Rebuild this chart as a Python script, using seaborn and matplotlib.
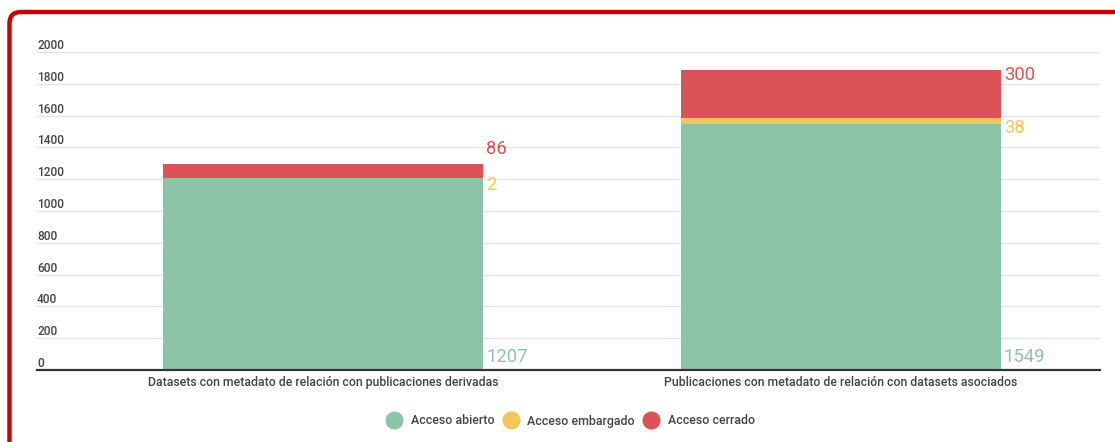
import matplotlib
matplotlib.use("Agg")
import matplotlib.pyplot as plt
from matplotlib.patches import FancyBboxPatch
from matplotlib.lines import Line2D
import seaborn as sns
import pandas as pd
import numpy as np

categories = ["Datasets con metadato de relación con publicaciones derivadas",
              "Publicaciones con metadato de relación con datasets asociados"]
abierto = [1207, 1549]
embargado = [2, 38]
cerrado = [86, 300]
series_names = ["Acceso abierto", "Acceso embargado", "Acceso cerrado"]
yticks = [0, 200, 400, 600, 800, 1000, 1200, 1400, 1600, 1800, 2000]

GREEN = "#8DC4A8"
YELLOW = "#F2C75E"
RED = "#DB5356"
TEXT = "#444444"

sns.set_theme(style="white")
plt.rcParams["font.family"] = ["Roboto", "DejaVu Sans"]

fig = plt.figure(figsize=(11.15, 4.42), dpi=100)
ax = fig.add_axes([37/1115, 1-370/442, (1100-37)/1115, (370-52)/442])

ab = np.array(abierto)
em = np.array(embargado)
ce = np.array(cerrado)
df = pd.DataFrame({"cat": categories, "ab": ab, "abem": ab + em, "tot": ab + em + ce})

W = 0.618
sns.barplot(data=df, x="cat", y="tot", color=RED, saturation=1, width=W, ax=ax, zorder=3)
sns.barplot(data=df, x="cat", y="abem", color=YELLOW, saturation=1, width=W, ax=ax, zorder=3)
sns.barplot(data=df, x="cat", y="ab", color=GREEN, saturation=1, width=W, ax=ax, zorder=3)
for p in ax.patches:
    p.set_linewidth(0)

ax.set_xlim(-0.553, 1.501)
ax.set_ylim(0, 2000)
ax.set_xlabel("")
ax.set_ylabel("")
for s in ["top", "right", "left"]:
    ax.spines[s].set_visible(False)
ax.spines["bottom"].set_color("#333333")
ax.spines["bottom"].set_linewidth(1.6)
ax.spines["bottom"].set_zorder(5)

# gridlines
ax.set_yticks(yticks)
ax.set_yticklabels([])
ax.tick_params(axis="y", length=0)
ax.yaxis.grid(True, color="#e3e3e3", linewidth=1)
ax.set_axisbelow(True)
for t in yticks:
    ax.text(0.0, t, str(t), transform=ax.get_yaxis_transform(), ha="left", va="bottom",
            fontsize=8.6, color=TEXT, fontweight="medium")

ax.tick_params(axis="x", length=0, pad=4, labelsize=8.8, labelcolor=TEXT)
for lbl in ax.get_xticklabels():
    lbl.set_fontweight("medium")

# value labels (offsets in pixels)
red_off = [-15, 5]
yel_off = [7, 10]
for i in range(len(categories)):
    xr = i + W / 2
    ax.annotate(str(ab[i]), (xr, 0), xytext=(3, 4), textcoords="offset pixels",
                ha="left", va="bottom", fontsize=13.3, color=GREEN)
    ax.annotate(str(em[i]), (xr, ab[i] + em[i]), xytext=(3, -yel_off[i]), textcoords="offset pixels",
                ha="left", va="center", fontsize=13.3, color=YELLOW)
    ax.annotate(str(ce[i]), (xr, ab[i] + em[i] + ce[i]), xytext=(3, -red_off[i]), textcoords="offset pixels",
                ha="left", va="center", fontsize=13.3, color=RED)

# legend
handles = [Line2D([], [], marker="o", linestyle="", markersize=12, markerfacecolor=c, markeredgecolor=c)
           for c in [GREEN, YELLOW, RED]]
leg = fig.legend(handles, series_names, loc="center", bbox_to_anchor=(571/1115, 1-421/442), ncol=3,
                 frameon=False, fontsize=8.9, handletextpad=0.75, columnspacing=0.7, labelcolor=TEXT,
                 handlelength=1.2)
for t in leg.get_texts():
    t.set_fontweight("medium")

# red frame
frame = FancyBboxPatch((9.5/1115, -0.2), 1.3, (1 - 12/442) + 0.2,
                       boxstyle="round,pad=0,rounding_size=0.01",
                       transform=fig.transFigure, fill=False, edgecolor="#CC0000", linewidth=3.2,
                       clip_on=False, mutation_aspect=1115/442)
fig.patches.append(frame)

fig.savefig("out.png", dpi=100)
